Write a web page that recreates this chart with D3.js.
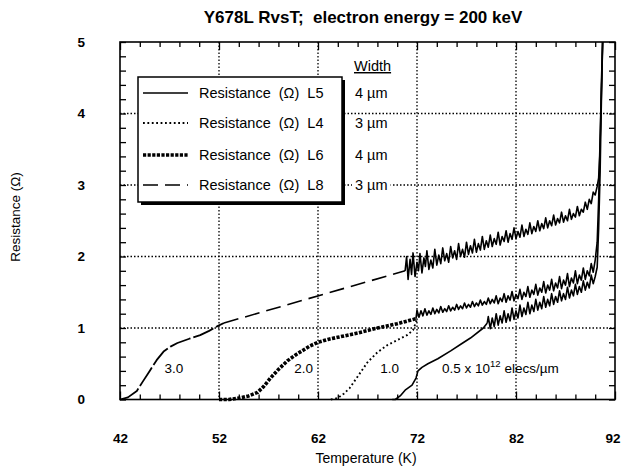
<!DOCTYPE html>
<html><head><meta charset="utf-8">
<script src="https://cdn.jsdelivr.net/npm/d3@7"></script>
<style>
body{margin:0;background:#fff}
text{font-family:"Liberation Sans",Arial,Helvetica,sans-serif;fill:#000}
</style></head><body>
<svg id="c" width="621" height="468"></svg>
<script>
// ---------- data ----------
const xTickValues = [42, 52, 62, 72, 82, 92];
const yTickValues = [0, 1, 2, 3, 4, 5];
const gridX = [52, 62, 72, 82];
const gridY = [1, 2, 3, 4];

// L5 (solid, 0.5e12 elecs/um)
const l5Smooth = [[69.5,0],[69.8,0.0],[70.3,0.05],[70.8,0.13],[71.5,0.2],[71.9,0.3],[72.1,0.4],[72.5,0.45],[73.1,0.5],[74.1,0.57],[75.4,0.68],[76.5,0.78],[77.4,0.86],[78.7,1.0],[79.1,1.07]];
const l5Noisy = [[79.1,1.07],[79.2,1.16],[79.4,0.99],[79.6,1.14],[79.8,1.02],[80.0,1.2],[80.2,1.04],[80.4,1.17],[80.6,1.07],[80.8,1.24],[81.0,1.08],[81.2,1.2],[81.4,1.1],[81.6,1.28],[81.8,1.12],[82.0,1.24],[82.2,1.14],[82.4,1.32],[82.6,1.16],[82.8,1.28],[83.0,1.19],[83.2,1.36],[83.4,1.2],[83.6,1.32],[83.8,1.23],[84.0,1.4],[84.2,1.25],[84.4,1.36],[84.6,1.27],[84.8,1.44],[85.0,1.29],[85.2,1.4],[85.4,1.31],[85.6,1.48],[85.8,1.33],[86.0,1.44],[86.2,1.36],[86.4,1.52],[86.6,1.38],[86.8,1.48],[87.0,1.4],[87.2,1.57],[87.4,1.42],[87.6,1.53],[87.8,1.45],[88.0,1.61],[88.2,1.47],[88.4,1.58],[88.6,1.5],[88.8,1.66],[89.0,1.53],[89.2,1.64],[89.4,1.56],[89.6,1.74],[89.8,1.62],[90.0,1.72],[90.2,1.85],[90.35,2.4],[90.5,3.2],[90.6,4.0],[90.75,5.0]];

// L4 (dotted, 1.0e12)
const l4Smooth = [[63.3,0],[64.0,0.02],[64.6,0.08],[65.2,0.16],[65.7,0.26],[66.3,0.38],[67.0,0.52],[68.0,0.66],[69.0,0.76],[70.0,0.83],[71.0,0.9],[71.6,0.97],[72.0,1.12]];

// L6 (heavy dotted, 2.0e12)
const l6Smooth = [[52.0,0],[53,0],[54,0.02],[55,0.05],[55.9,0.1],[56.5,0.18],[57.2,0.3],[58,0.42],[58.9,0.54],[59.7,0.62],[60.5,0.69],[61.2,0.75],[62,0.8],[63,0.84],[64,0.87],[66,0.93],[68,1.0],[70,1.06],[71.9,1.13]];
const l6Noisy = [[71.9,1.13],[72.0,1.25],[72.2,1.15],[72.4,1.24],[72.6,1.17],[72.8,1.27],[73.0,1.18],[73.2,1.24],[73.4,1.19],[73.6,1.28],[73.8,1.2],[74.0,1.26],[74.2,1.21],[74.4,1.3],[74.6,1.22],[74.8,1.27],[75.0,1.23],[75.2,1.31],[75.4,1.24],[75.6,1.29],[75.8,1.25],[76.0,1.33],[76.2,1.26],[76.4,1.31],[76.6,1.27],[76.8,1.35],[77.0,1.28],[77.2,1.33],[77.4,1.29],[77.6,1.37],[77.8,1.3],[78.0,1.35],[78.2,1.31],[78.4,1.39],[78.6,1.32],[78.8,1.37],[79.0,1.33],[79.2,1.42],[79.4,1.34],[79.6,1.4],[79.8,1.35],[80.0,1.45],[80.2,1.34],[80.4,1.42],[80.6,1.37],[80.8,1.48],[81.0,1.36],[81.2,1.45],[81.4,1.39],[81.6,1.51],[81.8,1.38],[82.0,1.47],[82.2,1.41],[82.4,1.54],[82.6,1.4],[82.8,1.5],[83.0,1.44],[83.2,1.58],[83.4,1.43],[83.6,1.53],[83.8,1.47],[84.0,1.61],[84.2,1.46],[84.4,1.56],[84.6,1.5],[84.8,1.65],[85.0,1.49],[85.2,1.6],[85.4,1.53],[85.6,1.68],[85.8,1.52],[86.0,1.63],[86.2,1.56],[86.4,1.72],[86.6,1.55],[86.8,1.67],[87.0,1.6],[87.2,1.76],[87.4,1.58],[87.6,1.7],[87.8,1.63],[88.0,1.8],[88.2,1.62],[88.4,1.74],[88.6,1.67],[88.8,1.84],[89.0,1.68],[89.2,1.8],[89.4,1.73],[89.6,1.9],[89.8,1.78],[90.0,1.95],[90.2,2.2],[90.35,2.8],[90.5,3.6],[90.62,4.4],[90.75,5.0]];

// L8 (dashed, 3.0e12)
const l8Rise = [[42.0,0],[42.8,0.03],[43.7,0.12],[44.3,0.25],[45,0.4],[45.7,0.55],[46.4,0.67],[47.1,0.74],[47.8,0.79],[49,0.85],[50.1,0.9],[51,0.96],[51.9,1.03],[52.5,1.07]];
const l8Straight = [[52.5,1.07],[70.8,1.8]];
const l8Noisy = [[70.8,1.8],[70.95,2.0],[71.1,1.68],[71.3,1.96],[71.45,1.75],[71.6,2.05],[71.8,1.72],[72.0,1.92],[72.15,1.8],[72.3,2.04],[72.5,1.77],[72.7,1.98],[72.85,1.86],[73.0,2.08],[73.2,1.82],[73.4,1.95],[73.6,1.84],[73.8,2.1],[74.0,1.88],[74.2,2.02],[74.4,1.9],[74.6,2.12],[74.8,1.94],[75.0,2.04],[75.2,1.92],[75.4,2.14],[75.6,1.98],[75.8,2.08],[76.0,1.96],[76.2,2.18],[76.4,2.0],[76.6,2.1],[76.8,1.99],[77.0,2.2],[77.2,2.03],[77.4,2.15],[77.6,2.05],[77.8,2.24],[78.0,2.06],[78.2,2.18],[78.4,2.09],[78.6,2.28],[78.8,2.1],[79.0,2.22],[79.2,2.13],[79.4,2.3],[79.6,2.14],[79.8,2.25],[80.0,2.17],[80.2,2.34],[80.4,2.16],[80.6,2.28],[80.8,2.21],[81.0,2.36],[81.2,2.2],[81.4,2.32],[81.6,2.24],[81.8,2.4],[82.0,2.25],[82.2,2.35],[82.4,2.27],[82.6,2.44],[82.8,2.28],[83.0,2.38],[83.2,2.31],[83.4,2.47],[83.6,2.32],[83.8,2.42],[84.0,2.35],[84.2,2.5],[84.4,2.36],[84.6,2.46],[84.8,2.39],[85.0,2.54],[85.2,2.4],[85.4,2.5],[85.6,2.43],[85.8,2.58],[86.0,2.44],[86.2,2.53],[86.4,2.47],[86.6,2.62],[86.8,2.48],[87.0,2.57],[87.2,2.5],[87.4,2.66],[87.6,2.52],[87.8,2.6],[88.0,2.55],[88.2,2.7],[88.4,2.57],[88.6,2.66],[88.8,2.62],[89.0,2.76],[89.2,2.66],[89.4,2.8],[89.6,2.74],[89.8,2.9],[90.0,2.86],[90.2,2.98],[90.35,3.1],[90.45,3.4],[90.55,3.9],[90.65,4.4],[90.75,5.0]];

const legendLabels = ["Resistance  (\u03A9)  L5", "Resistance  (\u03A9)  L4", "Resistance  (\u03A9)  L6", "Resistance  (\u03A9)  L8"];
const widthLabels = ["4 \u00B5m", "3 \u00B5m", "4 \u00B5m", "3 \u00B5m"];
const doseLabels = [[46.5, "3.0"], [59.6, "2.0"], [68.3, "1.0"]];

// ---------- drawing ----------
const svg = d3.select("#c");
const L = 120, R = 615, T = 42, B = 399.5;
const x = d3.scaleLinear().domain([42, 92]).range([L, R]);
const y = d3.scaleLinear().domain([0, 5]).range([B, T]);
const line = d3.line().x(d => x(d[0])).y(d => y(d[1]));

// title
svg.append("text").attr("x", 363).attr("y", 23).attr("text-anchor", "middle")
  .attr("font-weight", "bold").attr("font-size", 17).style("white-space", "pre")
  .text("Y678L RvsT;  electron energy = 200 keV");

// grid
const g = svg.append("g");
g.selectAll(".gx").data(gridX).join("line")
  .attr("x1", d => x(d)).attr("x2", d => x(d)).attr("y1", T).attr("y2", B)
  .attr("stroke", "#000").attr("stroke-width", 1.3).attr("stroke-dasharray", "1.5,2");
g.selectAll(".gy").data(gridY).join("line")
  .attr("x1", L).attr("x2", R).attr("y1", d => y(d)).attr("y2", d => y(d))
  .attr("stroke", "#000").attr("stroke-width", 1.3).attr("stroke-dasharray", "1.5,2");

// minor / major ticks (inward, all four sides)
const xMinor = d3.range(42, 92.01, 2).filter(v => (v - 42) % 10 !== 0);
const yMinor = d3.range(0, 5.001, 0.2).filter(v => Math.abs(v - Math.round(v)) > 1e-6);
function tickAxis(axisFn, scale, vals, size, tr) {
  const a = svg.append("g").attr("transform", tr)
    .call(axisFn(scale).tickValues(vals).tickSize(size).tickFormat(""));
  a.select(".domain").remove();
  a.selectAll("line").attr("stroke", "#000").attr("stroke-width", 1.3);
}
tickAxis(d3.axisTop, x, xMinor, 5, `translate(0,${B})`);
tickAxis(d3.axisTop, x, xTickValues, 8, `translate(0,${B})`);
tickAxis(d3.axisBottom, x, xMinor, 5, `translate(0,${T})`);
tickAxis(d3.axisBottom, x, xTickValues, 8, `translate(0,${T})`);
tickAxis(d3.axisRight, y, yMinor, 6, `translate(${L},0)`);
tickAxis(d3.axisRight, y, yTickValues, 6, `translate(${L},0)`);
tickAxis(d3.axisLeft, y, yMinor, 6, `translate(${R},0)`);
tickAxis(d3.axisLeft, y, yTickValues, 6, `translate(${R},0)`);

// frame
svg.append("rect").attr("x", L).attr("y", T).attr("width", R - L).attr("height", B - T)
  .attr("fill", "none").attr("stroke", "#000").attr("stroke-width", 1.6);

// tick labels
const xa = svg.append("g").attr("transform", `translate(0,${B})`)
  .call(d3.axisBottom(x).tickValues(xTickValues).tickSize(0).tickPadding(34));
xa.select(".domain").remove();
xa.selectAll("text").attr("font-size", 13.5).attr("font-weight", "bold")
  .attr("font-family", "Liberation Sans,Arial,sans-serif").attr("fill", "#000");
xa.selectAll("text").filter(d => d === 92).attr("text-anchor", "end").attr("x", 5);
const ya = svg.append("g").attr("transform", `translate(${L},0)`)
  .call(d3.axisLeft(y).tickValues(yTickValues).tickSize(0).tickPadding(35).tickFormat(d3.format("d")));
ya.select(".domain").remove();
ya.selectAll("text").attr("font-size", 13.5).attr("font-weight", "bold")
  .attr("font-family", "Liberation Sans,Arial,sans-serif").attr("fill", "#000");

// axis titles
svg.append("text").attr("x", 366).attr("y", 463).attr("text-anchor", "middle")
  .attr("font-size", 14).text("Temperature (K)");
svg.append("text").attr("transform", "translate(20,217) rotate(-90)").attr("text-anchor", "middle")
  .attr("font-size", 13.5).text("Resistance (\u03A9)");

// series
const styles = {
  l5: {w: 1.3, dash: null},
  l4: {w: 1.9, dash: "1.8,2.6"},
  l6: {w: 3.6, dash: "3.2,1.4"},
  l8: {w: 1.6, dash: "15,7"}
};
const plot = svg.append("g");
function drawPath(data, st) {
  const p = plot.append("path").attr("d", line(data)).attr("fill", "none")
    .attr("stroke", "#000").attr("stroke-width", st.w).attr("stroke-linejoin", "round");
  if (st.dash) p.attr("stroke-dasharray", st.dash);
}
drawPath(l8Rise, {w: 1.8, dash: "22,3"});
drawPath(l8Straight, styles.l8);
drawPath(l6Smooth, styles.l6);
drawPath(l4Smooth, styles.l4);
drawPath(l5Smooth, {w: 1.6, dash: null});
drawPath(l8Noisy, {w: 1.6, dash: null});
drawPath(l6Noisy, {w: 1.6, dash: null});
drawPath(l5Noisy, {w: 1.6, dash: null});

// dose annotations
svg.selectAll(".dose").data(doseLabels).join("text")
  .attr("x", d => x(d[0])).attr("y", 373).attr("font-size", 13.5).text(d => d[1]);
const ann = svg.append("text").attr("x", 442).attr("y", 373).attr("font-size", 13.5);
ann.append("tspan").text("0.5 x 10");
ann.append("tspan").attr("dy", -6).attr("font-size", 9.5).text("12");
ann.append("tspan").attr("dy", 6).text(" elecs/\u00B5m");

// legend
const lg = svg.append("g");
lg.append("rect").attr("x", 141).attr("y", 80).attr("width", 204).attr("height", 125).attr("fill", "#000");
lg.append("rect").attr("x", 138).attr("y", 77).attr("width", 204).attr("height", 125)
  .attr("fill", "#fff").attr("stroke", "#000").attr("stroke-width", 1.5);
const rowY = [93, 123, 155, 185];
const legStyles = [styles.l5, styles.l4, styles.l6, styles.l8];
rowY.forEach((ry, i) => {
  const s = legStyles[i];
  const ln = lg.append("line").attr("x1", 143).attr("x2", 188).attr("y1", ry).attr("y2", ry)
    .attr("stroke", "#000").attr("stroke-width", s.w);
  if (s.dash) ln.attr("stroke-dasharray", s.dash);
  lg.append("text").attr("x", 199).attr("y", ry + 5).attr("font-size", 14.5)
    .style("white-space", "pre").text(legendLabels[i]);
  const tx = lg.append("text").attr("x", 355).attr("y", ry + 5).attr("font-size", 14.5).text(widthLabels[i]);
  const bb = tx.node().getBBox();
  lg.insert("rect", () => tx.node()).attr("x", bb.x - 3).attr("y", bb.y).attr("width", bb.width + 6)
    .attr("height", bb.height).attr("fill", "#fff");
});
lg.append("text").attr("x", 354).attr("y", 71).attr("font-size", 14.5)
  .attr("text-decoration", "underline").text("Width");
</script></body></html>
